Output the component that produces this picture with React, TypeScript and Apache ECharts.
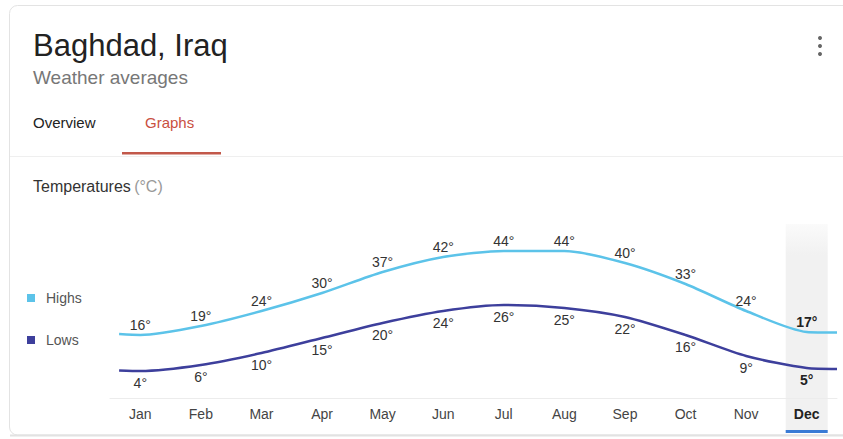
import React, { useEffect, useRef } from "react";
import * as echarts from "echarts";

const months = ["Jan", "Feb", "Mar", "Apr", "May", "Jun", "Jul", "Aug", "Sep", "Oct", "Nov", "Dec"];
const highs = [16, 19, 24, 30, 37, 42, 44, 44, 40, 33, 24, 17];
const lows = [4, 6, 10, 15, 20, 24, 26, 25, 22, 16, 9, 5];
// values where the drawn lines meet the left and right edges of the plot
const highsEdge = [16.3, 16.8];
const lowsEdge = [4.2, 4.7];
const edgeX = [-0.35, 11.5];
const selectedMonth = 11;

const FONT = "Arial, 'Liberation Sans', sans-serif";
const HIGH_COLOR = "#5cc3e9";
const LOW_COLOR = "#3d3f9c";

function buildSeriesData(values: number[], edge: number[]) {
  const pts: any[] = [{ value: [edgeX[0], edge[0]], label: { show: false } }];
  values.forEach((v, i) => {
    pts.push(
      i === selectedMonth
        ? { value: [i, v], label: { fontWeight: "bold", color: "#222" } }
        : { value: [i, v] }
    );
  });
  pts.push({ value: [edgeX[1], edge[1]], label: { show: false } });
  return pts;
}

export default function App() {
  const ref = useRef<HTMLDivElement>(null);
  useEffect(() => {
    if (!ref.current) return;
    const chart = echarts.init(ref.current, null, { renderer: "svg" });
    const option: any = {
      animation: false,
      backgroundColor: "#ffffff",
      textStyle: { fontFamily: FONT },
      grid: { left: 110, right: 6, top: 218, bottom: 41 },
      legend: {
        orient: "vertical",
        left: 22,
        top: 286,
        itemWidth: 8,
        itemHeight: 8,
        itemGap: 28,
        icon: "rect",
        textStyle: { color: "#555", fontSize: 14, fontFamily: FONT, padding: [0, 0, 0, 6] },
        data: ["Highs", "Lows"],
      },
      xAxis: [
        {
          type: "category",
          data: months,
          boundaryGap: true,
          axisLine: { onZero: false, lineStyle: { color: "#ececec", width: 1 } },
          axisTick: { show: false },
          axisLabel: {
            margin: 9,
            fontSize: 14,
            color: "#444",
            fontFamily: FONT,
            formatter: (v: string) => (v === months[selectedMonth] ? "{b|" + v + "}" : v),
            rich: { b: { fontWeight: "bold", color: "#222", fontSize: 14, fontFamily: FONT } },
          },
        },
        { type: "value", min: -0.5, max: 11.5, show: false },
      ],
      yAxis: { type: "value", min: -5, max: 55, show: false, splitLine: { show: false } },
      series: [
        {
          name: "Highs",
          type: "line",
          xAxisIndex: 1,
          data: buildSeriesData(highs, highsEdge),
          smooth: 0.25,
          symbol: "circle",
          symbolSize: 0,
          showSymbol: true,
          lineStyle: { color: HIGH_COLOR, width: 2.5 },
          itemStyle: { color: HIGH_COLOR },
          label: {
            show: true,
            position: "top",
            distance: 3,
            color: "#333",
            fontSize: 14,
            fontFamily: FONT,
            formatter: (p: any) => p.value[1] + "°",
          },
        },
        {
          name: "Lows",
          type: "line",
          xAxisIndex: 1,
          data: buildSeriesData(lows, lowsEdge),
          smooth: 0.25,
          symbol: "circle",
          symbolSize: 0,
          showSymbol: true,
          lineStyle: { color: LOW_COLOR, width: 2.5 },
          itemStyle: { color: LOW_COLOR },
          label: {
            show: true,
            position: "bottom",
            distance: 5,
            color: "#333",
            fontSize: 14,
            fontFamily: FONT,
            formatter: (p: any) => p.value[1] + "°",
          },
        },
      ],
    };
    chart.setOption(option);

    const cx = chart.convertToPixel({ xAxisIndex: 0 }, months[selectedMonth]) as number;
    const topY = chart.convertToPixel({ yAxisIndex: 0 }, 53) as number;
    const bandW = 42;

    chart.setOption({
      graphic: [
        {
          type: "rect",
          z: -10,
          silent: true,
          shape: { x: cx - bandW / 2, y: topY, width: bandW, height: 431 - topY },
          style: {
            fill: new echarts.graphic.LinearGradient(0, 0, 0, 1, [
              { offset: 0, color: "rgba(240,240,240,0.3)" },
              { offset: 0.15, color: "#f1f1f1" },
              { offset: 1, color: "#f1f1f1" },
            ]),
          },
        },
        {
          type: "rect",
          silent: true,
          shape: { x: cx - bandW / 2, y: 430, width: bandW, height: 3 },
          style: { fill: "#3a7bd5" },
        },
        {
          type: "rect",
          z: -20,
          silent: true,
          shape: { x: 9.5, y: 5.5, width: 900, height: 429.5, r: 8 },
          style: { fill: "none", stroke: "#e3e3e3", lineWidth: 1 },
        },
        {
          type: "line",
          silent: true,
          shape: { x1: 10, y1: 435.5, x2: 843, y2: 435.5 },
          style: { stroke: "#e2e2e2", lineWidth: 2 },
        },
        {
          type: "line",
          silent: true,
          shape: { x1: 10, y1: 156.5, x2: 843, y2: 156.5 },
          style: { stroke: "#efefef", lineWidth: 1 },
        },
        {
          type: "text",
          left: 33,
          top: 30,
          style: { text: "Baghdad, Iraq", fontSize: 31, fill: "#222", fontFamily: FONT },
        },
        {
          type: "text",
          left: 33,
          top: 68,
          style: { text: "Weather averages", fontSize: 19, fill: "#777", fontFamily: FONT },
        },
        {
          type: "text",
          left: 33,
          top: 115,
          style: { text: "Overview", fontSize: 15, fill: "#222", fontFamily: FONT },
        },
        {
          type: "text",
          left: 145,
          top: 115,
          style: { text: "Graphs", fontSize: 15, fill: "#c9503f", fontFamily: FONT },
        },
        {
          type: "rect",
          silent: true,
          shape: { x: 122, y: 152, width: 99, height: 2.5 },
          style: { fill: "#c2584a" },
        },
        {
          type: "text",
          left: 33,
          top: 178,
          style: {
            text: "{a|Temperatures} {b|(°C)}",
            rich: {
              a: { fontSize: 16, fill: "#333", fontFamily: FONT },
              b: { fontSize: 16, fill: "#999", fontFamily: FONT },
            },
          },
        },
        { type: "circle", shape: { cx: 820, cy: 38, r: 2 }, style: { fill: "#666" } },
        { type: "circle", shape: { cx: 820, cy: 46, r: 2 }, style: { fill: "#666" } },
        { type: "circle", shape: { cx: 820, cy: 54, r: 2 }, style: { fill: "#666" } },
      ],
    });
    return () => chart.dispose();
  }, []);
  return (
    <div
      ref={ref}
      style={{ position: "fixed", left: 0, top: 0, width: 843, height: 439 }}
    />
  );
}
